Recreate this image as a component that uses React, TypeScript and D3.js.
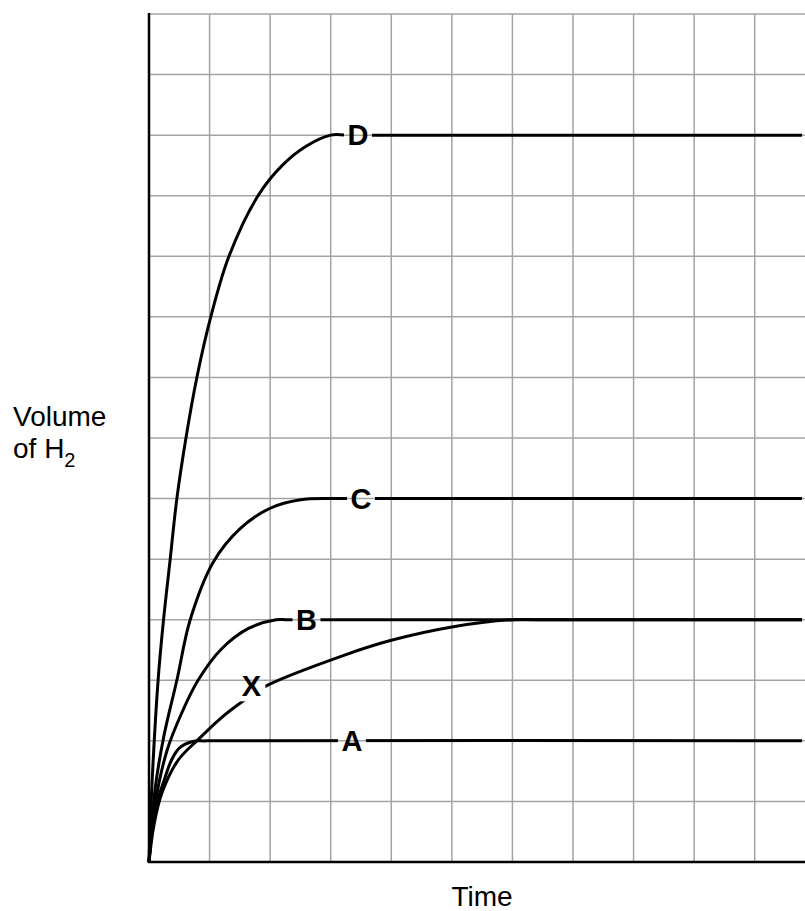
import React, { useEffect, useRef } from 'react';
import * as d3 from 'd3';

// curve points: [time, volume] in grid squares
const curveD = [[0, 0], [0.05, 1.3], [0.15, 3], [0.24, 4], [0.35, 5], [0.46, 6], [0.61, 7], [0.79, 8], [1.02, 9], [1.32, 10], [1.8, 11], [2.2, 11.5], [2.6, 11.82], [3, 12], [3.3, 12], [10.78, 12]];
const curveC = [[0, 0], [0.1, 1.2], [0.25, 2.1], [0.46, 3], [0.68, 4], [1.06, 4.95], [1.5, 5.5], [2.0, 5.84], [2.5, 5.98], [3, 6], [3.3, 6], [10.78, 6]];
const curveB = [[0, 0], [0.1, 0.95], [0.3, 1.85], [0.54, 2.46], [0.81, 3], [1.2, 3.52], [1.65, 3.86], [2.1, 4], [2.3, 4], [10.78, 4]];
const curveX = [[0, 0], [0.08, 0.6], [0.21, 1.13], [0.48, 1.68], [0.81, 2.02], [1.17, 2.36], [1.53, 2.64], [1.92, 2.9], [3.24, 3.42], [4, 3.66], [5, 3.88], [6, 4], [6.4, 4], [10.78, 4]];
const curveA = [[0, 0], [0.1, 0.85], [0.26, 1.38], [0.37, 1.68], [0.5, 1.88], [0.72, 1.99], [0.95, 2], [10.78, 2]];

const curves = [curveD, curveC, curveB, curveX, curveA];

// labels sit on the lines and break them
const labelNames = ['D', 'C', 'B', 'A', 'X'];
const labelPos = [[3.45, 12], [3.5, 6], [2.6, 4], [3.35, 2], [1.69, 2.9]];

const xTicks = d3.range(0, 12);
const yTicks = d3.range(0, 15);

const App = () => {
  const svgRef = useRef(null);

  useEffect(() => {
    const width = 805;
    const height = 911;
    const svg = d3.select(svgRef.current).attr('width', width).attr('height', height);
    svg.selectAll('*').remove();

    const x = d3.scaleLinear().domain([0, 11]).range([149, 815.3]);
    const y = d3.scaleLinear().domain([0, 14]).range([862, 14]);

    // grid
    svg.append('g')
      .selectAll('line')
      .data(xTicks.slice(1))
      .join('line')
      .attr('x1', (d) => x(d)).attr('x2', (d) => x(d))
      .attr('y1', y(0)).attr('y2', y(14))
      .attr('stroke', '#a3a3a3').attr('stroke-width', 1.5);

    svg.append('g')
      .selectAll('line')
      .data(yTicks.slice(1))
      .join('line')
      .attr('x1', x(0)).attr('x2', width)
      .attr('y1', (d) => y(d)).attr('y2', (d) => y(d))
      .attr('stroke', '#a3a3a3').attr('stroke-width', 1.5);

    // axes
    svg.append('line')
      .attr('x1', x(0)).attr('x2', x(0)).attr('y1', y(0) + 1).attr('y2', y(14) - 1)
      .attr('stroke', '#000').attr('stroke-width', 2.5);
    svg.append('line')
      .attr('x1', x(0) - 1).attr('x2', width).attr('y1', y(0)).attr('y2', y(0))
      .attr('stroke', '#000').attr('stroke-width', 2.5);

    // mask cuts the curves around the labels
    const mask = svg.append('defs').append('mask').attr('id', 'labelGaps');
    mask.append('rect').attr('x', 0).attr('y', 0).attr('width', width).attr('height', height).attr('fill', '#fff');
    labelPos.forEach(([lx, ly]) => {
      mask.append('rect')
        .attr('x', x(lx) - 14).attr('y', y(ly) - 15)
        .attr('width', 28).attr('height', 30)
        .attr('fill', '#000');
    });

    const line = d3.line()
      .x((d) => x(d[0]))
      .y((d) => y(d[1]))
      .curve(d3.curveCatmullRom.alpha(0.5));

    svg.append('g')
      .attr('mask', 'url(#labelGaps)')
      .selectAll('path')
      .data(curves)
      .join('path')
      .attr('d', line)
      .attr('fill', 'none')
      .attr('stroke', '#000')
      .attr('stroke-width', 3)
      .attr('stroke-linejoin', 'round');

    svg.append('g')
      .selectAll('text')
      .data(labelNames)
      .join('text')
      .attr('x', (d, i) => x(labelPos[i][0]))
      .attr('y', (d, i) => y(labelPos[i][1]) + 10)
      .attr('text-anchor', 'middle')
      .attr('font-family', '"Liberation Sans", Arial, sans-serif')
      .attr('font-weight', 'bold')
      .attr('font-size', 29)
      .attr('fill', '#000')
      .text((d) => d);

    // axis titles
    const font = '"Liberation Sans", Arial, sans-serif';
    svg.append('text')
      .attr('x', 13).attr('y', 426)
      .attr('font-family', font).attr('font-size', 28)
      .text('Volume');

    const h2 = svg.append('text')
      .attr('x', 13).attr('y', 458)
      .attr('font-family', font).attr('font-size', 28);
    h2.append('tspan').text('of H');
    h2.append('tspan').attr('font-size', 20).attr('dy', 9).text('2');

    svg.append('text')
      .attr('x', 482).attr('y', 906)
      .attr('text-anchor', 'middle')
      .attr('font-family', font).attr('font-size', 28)
      .text('Time');
  }, []);

  return (
    <div style={{ position: 'absolute', left: 0, top: 0 }}>
      <svg ref={svgRef} style={{ display: 'block', background: '#fff' }}></svg>
    </div>
  );
};

export default App;
